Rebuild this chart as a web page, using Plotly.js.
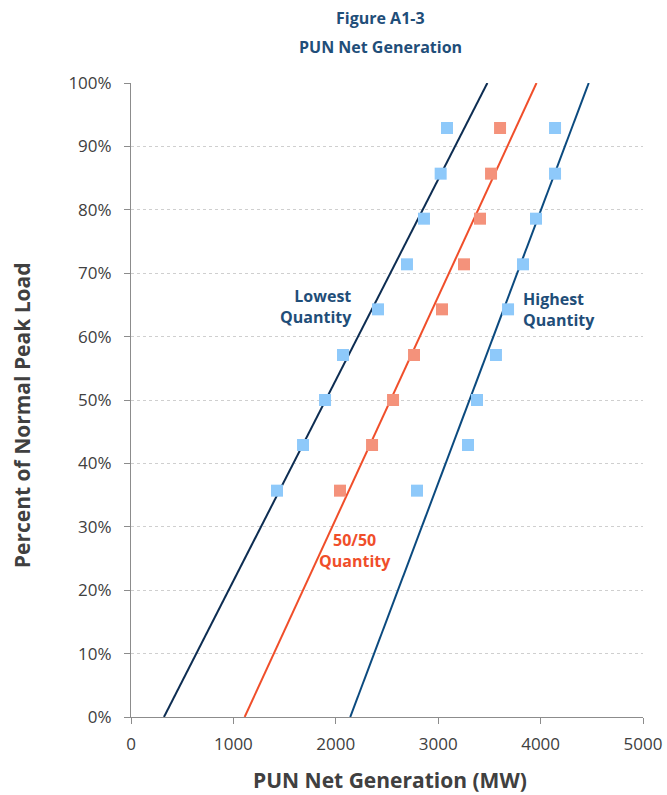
<!DOCTYPE html>
<html>
<head>
<meta charset="utf-8">
<script src="https://cdn.plot.ly/plotly-3.0.1.min.js"></script>
<style>html,body{margin:0;padding:0;background:#fff;}#chart{width:667px;height:795px;}</style>
</head>
<body>
<div id="chart"></div>
<script>
const loadPct = [0.357, 0.429, 0.5, 0.571, 0.643, 0.714, 0.786, 0.857, 0.929];
const lowestMW = [1426, 1680, 1895, 2070, 2412, 2695, 2861, 3024, 3086];
const fiftyMW = [2041, 2354, 2559, 2764, 3037, 3252, 3408, 3516, 3604];
const highestMW = [2793, 3291, 3379, 3564, 3682, 3828, 3955, 4141, 4141];
const lineY = [0, 1];
const lowestLineX = [322, 3480];
const fiftyLineX = [1110, 3960];
const highestLineX = [2141, 4470];

const navy = '#1F4E79';
const gray = '#404040';
const traces = [
  {x: lowestLineX, y: lineY, mode: 'lines', line: {color: '#0D2D52', width: 2}, hoverinfo: 'skip'},
  {x: fiftyLineX, y: lineY, mode: 'lines', line: {color: '#F04E2A', width: 2}, hoverinfo: 'skip'},
  {x: highestLineX, y: lineY, mode: 'lines', line: {color: '#0B4A7F', width: 2}, hoverinfo: 'skip'},
  {x: lowestMW, y: loadPct, mode: 'markers', marker: {symbol: 'square', size: 12, color: '#8EC9FA'}},
  {x: fiftyMW, y: loadPct, mode: 'markers', marker: {symbol: 'square', size: 12, color: '#F4927B'}},
  {x: highestMW, y: loadPct, mode: 'markers', marker: {symbol: 'square', size: 12, color: '#8EC9FA'}}
];

const layout = {
  width: 667, height: 795,
  margin: {l: 131, r: 24, t: 83, b: 78},
  paper_bgcolor: '#fff', plot_bgcolor: '#fff',
  showlegend: false,
  font: {family: 'Open Sans, sans-serif', color: gray},
  xaxis: {
    range: [0, 5000], tickvals: [0, 1000, 2000, 3000, 4000, 5000],
    showgrid: false, zeroline: false, showline: true, linecolor: '#8c8c8c', linewidth: 1,
    ticks: 'outside', ticklen: 6, tickcolor: '#8c8c8c', ticklabelstandoff: 6,
    tickfont: {size: 17, color: gray}
  },
  yaxis: {
    range: [0, 1], dtick: 0.1, tickformat: '.0%',
    showgrid: true, gridcolor: '#cfcfcf', griddash: 'dot', gridwidth: 1,
    zeroline: false, showline: true, linecolor: '#8c8c8c', linewidth: 1,
    ticks: 'outside', ticklen: 6, tickcolor: '#8c8c8c', ticklabelstandoff: 9,
    tickfont: {size: 17, color: gray}
  },
  annotations: [
    {x: 0.488, y: 1.1025, xref: 'paper', yref: 'paper', text: '<b>Figure A1-3</b>', showarrow: false, xanchor: 'center', yanchor: 'middle', font: {size: 16, color: navy}},
    {x: 0.488, y: 1.0568, xref: 'paper', yref: 'paper', text: '<b>PUN Net Generation</b>', showarrow: false, xanchor: 'center', yanchor: 'middle', font: {size: 16, color: navy}},
    {x: 0.505, y: -0.0994, xref: 'paper', yref: 'paper', text: '<b>PUN Net Generation (MW)</b>', showarrow: false, xanchor: 'center', yanchor: 'middle', font: {size: 21, color: gray}},
    {x: -0.213, y: 0.476, xref: 'paper', yref: 'paper', text: '<b>Percent of Normal Peak Load</b>', textangle: -90, showarrow: false, xanchor: 'center', yanchor: 'middle', font: {size: 21, color: gray}},
    {x: 2180, y: 0.648, xref: 'x', yref: 'y', text: '<b>Lowest<br>Quantity</b>', showarrow: false, xanchor: 'right', align: 'right', font: {size: 16, color: navy}},
    {x: 3805, y: 0.643, xref: 'x', yref: 'y', text: '<b>Highest<br>Quantity</b>', showarrow: false, xanchor: 'left', align: 'left', font: {size: 16, color: navy}},
    {x: 2190, y: 0.262, xref: 'x', yref: 'y', text: '<b>50/50<br>Quantity</b>', showarrow: false, xanchor: 'center', align: 'center', font: {size: 16, color: '#F04E2A'}}
  ]
};

Plotly.newPlot('chart', traces, layout, {displayModeBar: false, staticPlot: true});
</script>
</body>
</html>
